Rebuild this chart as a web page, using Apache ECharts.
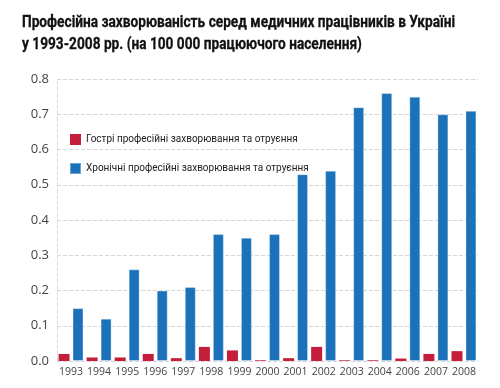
<!DOCTYPE html>
<html><head><meta charset="utf-8">
<script src="https://cdn.jsdelivr.net/npm/echarts@6/dist/echarts.min.js"></script>
<style>html,body{margin:0;padding:0;background:#fff}#c{width:500px;height:388px}</style>
</head><body><div id="c"></div>
<script>
var categories = ['1993','1994','1995','1996','1997','1998','1999','2000','2001','2002','2003','2004','2006','2007','2008'];
var acute = [0.02,0.01,0.01,0.02,0.008,0.04,0.03,0.002,0.008,0.04,0.002,0.002,0.007,0.02,0.028];
var chronic = [0.15,0.12,0.26,0.20,0.21,0.36,0.35,0.36,0.53,0.54,0.72,0.76,0.75,0.70,0.71];
var seriesNames = ['Гострі професійні захворювання та отруєння','Хронічні професійні захворювання та отруєння'];
var titleText = 'Професійна захворюваність серед медичних працівників в Україні\nу 1993-2008 рр. (на 100 000 працюючого населення)';

var chart = echarts.init(document.getElementById('c'));
chart.setOption({
  animation: false,
  graphic: [{
    type: 'text', x: 22, y: 12, scaleX: 0.805, scaleY: 1,
    style: {text: titleText, font: 'bold 17px Roboto, sans-serif', fill: '#111', lineHeight: 22, textVerticalAlign: 'top', stroke: '#111', lineWidth: 0.3}
  }],
  legend: {
    orient: 'vertical', left: 64, top: 129, itemWidth: 11, itemHeight: 11, itemGap: 17,
    textStyle: {fontFamily: 'Roboto,sans-serif', fontSize: 10, color: '#222'},
    icon: 'rect',
    data: seriesNames
  },
  grid: {left: 57, right: 22, top: 79, bottom: 27},
  xAxis: {
    type: 'category', data: categories,
    axisLine: {show: false}, axisTick: {show: false},
    axisLabel: {fontFamily: '"Open Sans",sans-serif', fontSize: 10.5, color: '#444', margin: 6, interval: 0}
  },
  yAxis: {
    type: 'value', min: 0, max: 0.8, interval: 0.1,
    axisLine: {show: true, lineStyle: {color: '#ddd', type: 'dashed'}},
    splitLine: {lineStyle: {color: '#d6d6d6', type: 'dashed'}},
    axisLabel: {fontFamily: '"Open Sans",sans-serif', fontSize: 13, color: '#444', margin: 8, formatter: function(v){return v.toFixed(1);}}
  },
  series: [
    {name: seriesNames[0], type: 'bar', data: acute, barWidth: 11, barGap: '27%', itemStyle: {color: '#c41e3a'}},
    {name: seriesNames[1], type: 'bar', data: chronic, barWidth: 11, itemStyle: {color: '#1b72ba', borderColor: 'rgba(255,255,255,0.35)', borderWidth: 1}}
  ]
});
</script></body></html>
